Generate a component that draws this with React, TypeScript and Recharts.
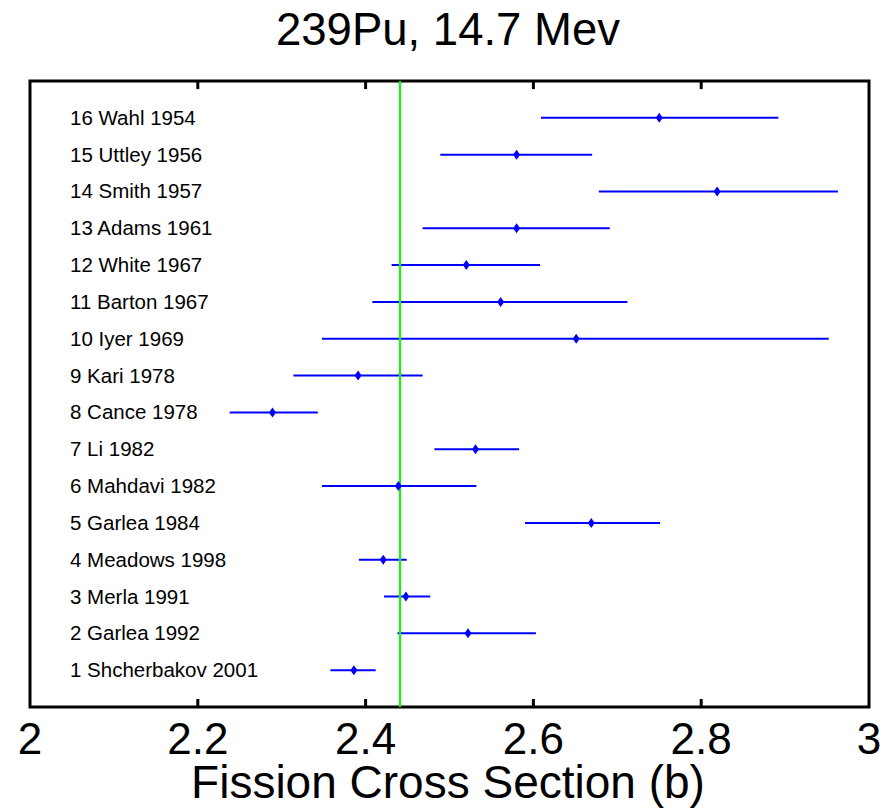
import { ComposedChart, ErrorBar, ReferenceArea, ReferenceLine, Scatter, XAxis, YAxis } from "recharts";

const studies = [
  "16 Wahl 1954",
  "15 Uttley 1956",
  "14 Smith 1957",
  "13 Adams 1961",
  "12 White 1967",
  "11 Barton 1967",
  "10 Iyer 1969",
  "9 Kari 1978",
  "8 Cance 1978",
  "7 Li 1982",
  "6 Mahdavi 1982",
  "5 Garlea 1984",
  "4 Meadows 1998",
  "3 Merla 1991",
  "2 Garlea 1992",
  "1 Shcherbakov 2001",
];
const studyNo = [16, 15, 14, 13, 12, 11, 10, 9, 8, 7, 6, 5, 4, 3, 2, 1];
const crossSection = [2.75, 2.58, 2.819, 2.58, 2.52, 2.561, 2.651, 2.391, 2.289, 2.531, 2.439, 2.669, 2.421, 2.448, 2.522, 2.386];
const lowerBound = [2.609, 2.489, 2.678, 2.468, 2.431, 2.408, 2.348, 2.314, 2.238, 2.482, 2.348, 2.59, 2.392, 2.422, 2.438, 2.358];
const upperBound = [2.892, 2.67, 2.963, 2.691, 2.608, 2.712, 2.952, 2.468, 2.343, 2.583, 2.532, 2.751, 2.449, 2.477, 2.603, 2.412];
const xTicks = [2, 2.2, 2.4, 2.6, 2.8, 3];
const innerTicks = [2.2, 2.4, 2.6, 2.8];
const evaluated = 2.441;

const data = studies.map((name, i) => ({
  name,
  no: studyNo[i],
  value: crossSection[i],
  err: [crossSection[i] - lowerBound[i], upperBound[i] - crossSection[i]],
}));

const FONT = "'Liberation Sans', Arial, sans-serif";

function BottomTick(props: any) {
  const { x, y, payload } = props;
  return (
    <g>
      {innerTicks.includes(payload.value) && (
        <line x1={x} x2={x} y1={y} y2={y - 8} stroke="#000" strokeWidth={3} />
      )}
      <text x={x} y={y + 47} textAnchor="middle" fontSize={44} fontFamily={FONT} fill="#000">
        {payload.value}
      </text>
    </g>
  );
}

function StudyTick(props: any) {
  const { y, payload } = props;
  const row = data.find((d) => d.no === payload.value);
  return (
    <text x={70} y={y + 7} fontSize={20.5} fontFamily={FONT} fill="#000">
      {row ? row.name : ""}
    </text>
  );
}

function Diamond(props: any) {
  const { cx, cy } = props;
  return <polygon points={`${cx},${cy - 5} ${cx + 3.5},${cy} ${cx},${cy + 5} ${cx - 3.5},${cy}`} fill="#0000ff" />;
}

export default function App() {
  return (
    <div style={{ position: "absolute", left: 0, top: 0, width: 893, height: 809, background: "#fff" }}>
      <ComposedChart width={893} height={809} margin={{ top: 81, right: 24, bottom: 101, left: 29 }}>
        <XAxis
          type="number"
          dataKey="value"
          domain={[2, 3]}
          ticks={xTicks}
          height={1}
          tickSize={0}
          tickMargin={0}
          axisLine={false}
          tickLine={false}
          tick={<BottomTick />}
          interval={0}
          allowDataOverflow
        />
        <YAxis
          type="number"
          dataKey="no"
          domain={[0, 17]}
          ticks={studyNo}
          width={1}
          tickSize={0}
          tickMargin={0}
          axisLine={false}
          tickLine={false}
          tick={<StudyTick />}
          interval={0}
        />
        <Scatter data={data} dataKey="value" shape={<Diamond />} isAnimationActive={false}>
          <ErrorBar dataKey="err" direction="x" width={0} stroke="#0000ff" strokeWidth={2} isAnimationActive={false} />
        </Scatter>
        <ReferenceLine x={evaluated} stroke="#00ff00" strokeWidth={2} ifOverflow="visible" />
        <ReferenceArea x1={2} x2={3} y1={0} y2={17} fill="none" stroke="#000" strokeWidth={3} ifOverflow="visible" />
        {innerTicks.map((t) => (
          <ReferenceLine key={`t${t}`} segment={[{ x: t, y: 17 }, { x: t, y: 16.78 }]} stroke="#000" strokeWidth={3} ifOverflow="visible" />
        ))}
        <text x={448} y={45} textAnchor="middle" fontSize={45.5} fontFamily={FONT} fill="#000">
          239Pu, 14.7 Mev
        </text>
        <text x={448} y={798} textAnchor="middle" fontSize={46} fontFamily={FONT} fill="#000">
          Fission Cross Section (b)
        </text>
      </ComposedChart>
    </div>
  );
}
